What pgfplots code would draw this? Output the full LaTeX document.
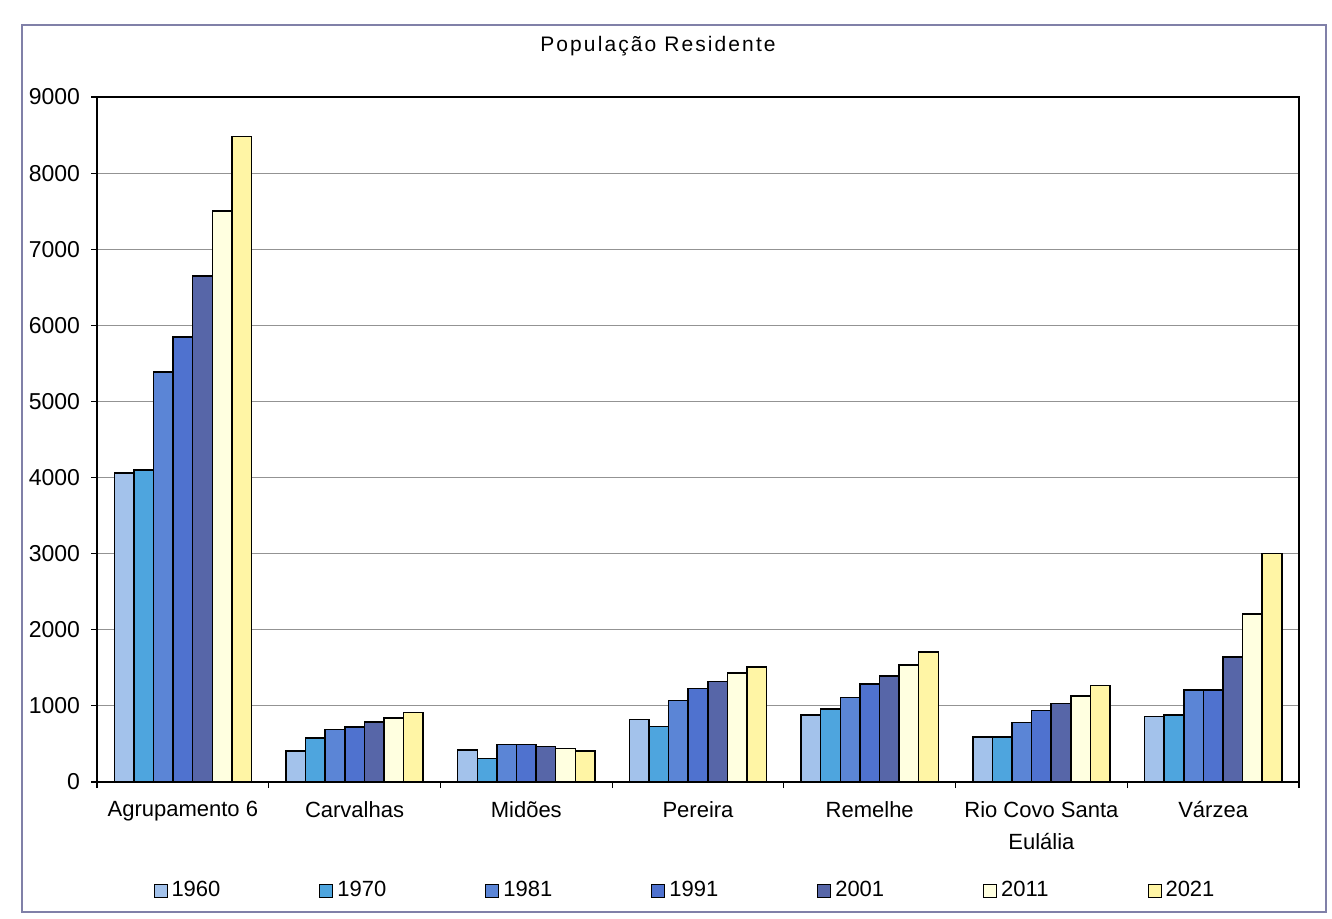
\documentclass[border=0pt]{standalone}
\usepackage{pgfplots}
\pgfplotsset{compat=1.18}
\usepackage{pgfplotstable}
\usepackage{fontspec}
\setmainfont{Liberation Sans}
\definecolor{cA}{HTML}{A3C2EB}
\definecolor{cB}{HTML}{4EA5DE}
\definecolor{cC}{HTML}{5B85D6}
\definecolor{cD}{HTML}{4F72CF}
\definecolor{cE}{HTML}{5766A8}
\definecolor{cF}{HTML}{FFFFE0}
\definecolor{cG}{HTML}{FFF5A5}
\definecolor{frame}{HTML}{8080A8}

% columns: category index, 1960 1970 1981 1991 2001 2011 2021
\pgfplotstableread{
x  a    b    c    d    e    f    g
0  4060 4100 5390 5850 6650 7500 8480
1  410  580  690  720  790  840  915
2  420  310  490  490  465  440  410
3  820  730  1070 1230 1320 1430 1510
4  880  960  1110 1290 1390 1540 1710
5  590  590  780  940  1030 1130 1270
6  860  880  1210 1210 1640 2210 3000
}\popdata

\begin{document}
\begin{tikzpicture}
\path[use as bounding box] (0,0) rectangle (666pt,459pt);
\draw[color=frame, line width=1pt] (11pt,3pt) rectangle (663pt,446.5pt);
\node[font=\fontsize{10.5}{12}\selectfont\addfontfeatures{LetterSpace=10}] at (329pt,436pt) {População Residente};
\begin{axis}[
  at={(48.5pt,68pt)}, anchor=south west,
  scale only axis, width=601pt, height=342.5pt,
  ybar=0pt, bar width=9.8pt,
  xmin=-0.5, xmax=6.5, ymin=0, ymax=9000,
  xtick={-0.5,0.5,...,6.5}, xticklabels={},
  extra x ticks={0,1,2,3,4,5,6},
  extra x tick labels={Agrupamento 6,Carvalhas,Midões,Pereira,Remelhe,{Rio Covo Santa\\Eulália},Várzea},
  extra x tick style={major tick length=0pt, grid=none},
  xtick pos=bottom, ytick pos=left,
  ytick={0,1000,...,9000},
  ymajorgrids,
  grid style={draw=gray!85, line width=0.5pt},
  tick align=outside, major tick length=3pt,
  tick style={black, line width=0.6pt},
  axis line style={black, line width=0.8pt},
  xticklabel style={align=center, yshift=-6pt, font=\fontsize{11}{16}\selectfont},
  yticklabel style={font=\fontsize{11.5}{13}\selectfont, xshift=-2pt},
  /pgf/number format/assume math mode=true,
  /pgf/number format/1000 sep={},
  scaled y ticks=false,
  legend columns=7,
  legend style={draw=none, fill=none, at={(0.49,-0.158)}, anchor=center,
    font=\fontsize{11}{13}\selectfont,
    /tikz/every even column/.append style={column sep=47.5pt}},
  mybar/.style={fill=#1, draw=black, line width=0.75pt,
    legend image code/.code={\draw[fill=#1, draw=black, line width=0.5pt] (0pt,-3.5pt) rectangle (6.5pt,3pt);}},
]
\addplot[mybar=cA] table[x=x,y=a]{\popdata};
\addplot[mybar=cB] table[x=x,y=b]{\popdata};
\addplot[mybar=cC] table[x=x,y=c]{\popdata};
\addplot[mybar=cD] table[x=x,y=d]{\popdata};
\addplot[mybar=cE] table[x=x,y=e]{\popdata};
\addplot[mybar=cF] table[x=x,y=f]{\popdata};
\addplot[mybar=cG] table[x=x,y=g]{\popdata};
\legend{1960,1970,1981,1991,2001,2011,2021}
\end{axis}
\end{tikzpicture}
\end{document}
